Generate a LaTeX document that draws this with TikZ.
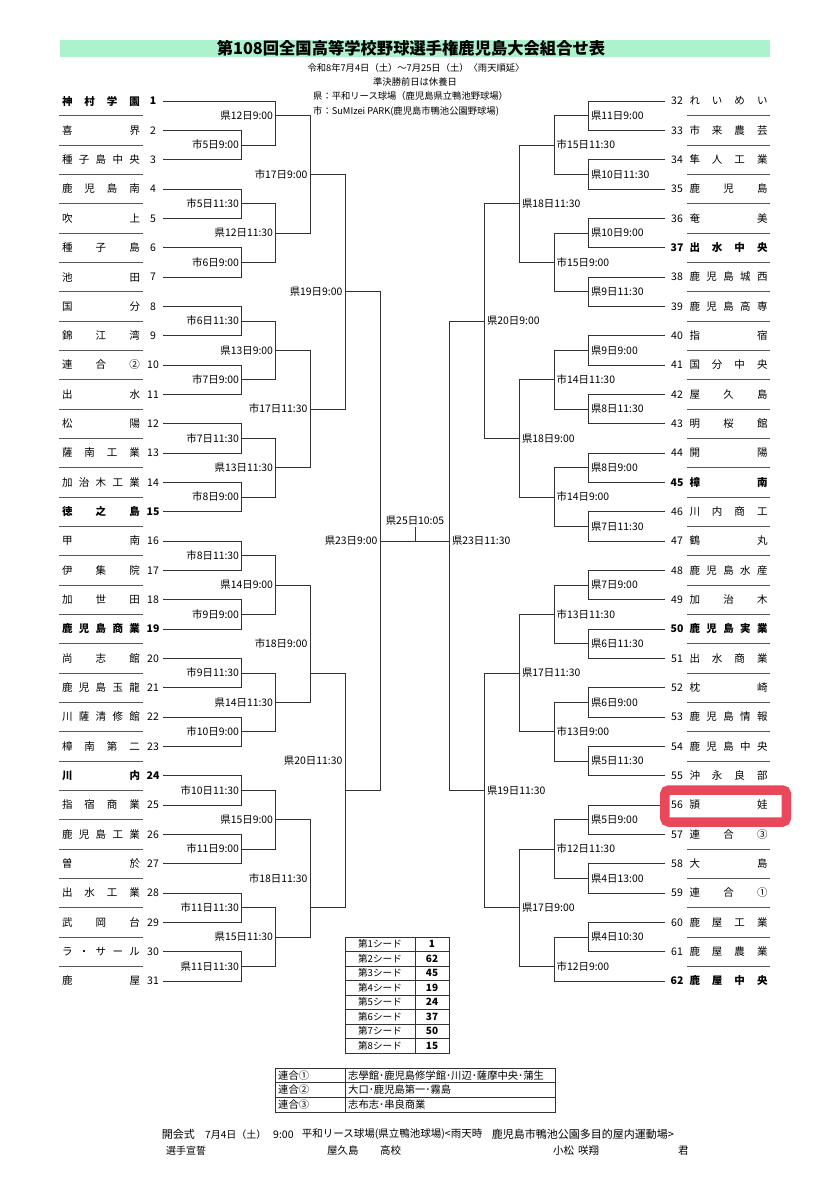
\documentclass[tikz,border=0pt]{standalone}
\usepackage{fontspec}
\setmainfont{Noto Sans CJK JP}
\usepackage{xcolor}
\usepackage{tikz}
\usetikzlibrary{positioning,calc}
\definecolor{bandgreen}{RGB}{172,242,204}
\definecolor{markred}{RGB}{232,72,90}
\newcommand\spread[1]{\makebox[78pt][s]{\expandafter\spreadi#1\relax}}
\def\spreadi#1#2{#1\ifx\relax#2\else\hfill\expandafter\spreadi\fi#2}
\newcommand\Y[1]{101+29.333*(#1-1)}
\newcommand\YR[1]{101+29.333*(#1-32)}
\tikzset{
  teamname/.style={inner sep=0pt,font=\fontsize{10.5}{12}\selectfont},
  teamnum/.style={inner sep=0pt,font=\fontsize{10.5}{12}\selectfont},
  datel/.style={inner sep=0pt,font=\fontsize{10.4}{12}\selectfont},
  subl/.style={inner sep=0pt,font=\fontsize{9.3}{11}\selectfont},
  bracket/.style={line width=0.9pt,black!80},
  rowline/.style={line width=0.7pt,black!65},
  tabline/.style={line width=0.7pt,black!80}
}
\begin{document}
\begin{tikzpicture}[x=1pt,y=-1pt]
\useasboundingbox (0,0) rectangle (840,1200);
\fill[bandgreen] (60,40) rectangle (770,57);
\node[inner sep=0pt,font=\fontsize{16.3}{18}\selectfont\bfseries] (title) at (411,48.5) {第108回全国高等学校野球選手権鹿児島大会組合せ表};
\node[subl] (sub1) at (416,67.7) {令和8年7月4日（土）～7月25日（土）〈雨天順延〉};
\node[subl] (sub2) at (415,81.7) {準決勝前日は休養日};
\node[subl,anchor=west] (sub3) at (313,96) {県：平和リース球場（鹿児島県立鴨池野球場）};
\node[subl,anchor=west] (sub4) at (313,111.7) {市：SuMIzei PARK(鹿児島市鴨池公園野球場)};

\foreach \n/\name/\bd in {1/神村学園/1,2/喜界/0,3/種子島中央/0,4/鹿児島南/0,5/吹上/0,6/種子島/0,7/池田/0,8/国分/0,9/錦江湾/0,10/連合②/0,11/出水/0,12/松陽/0,13/薩南工業/0,14/加治木工業/0,15/徳之島/1,16/甲南/0,17/伊集院/0,18/加世田/0,19/鹿児島商業/1,20/尚志館/0,21/鹿児島玉龍/0,22/川薩清修館/0,23/樟南第二/0,24/川内/1,25/指宿商業/0,26/鹿児島工業/0,27/曽於/0,28/出水工業/0,29/武岡台/0,30/ラ・サール/0,31/鹿屋/0}{
  \node[teamname] (n\n) at (101,{\Y{\n}}) {\ifnum\bd=1 \bfseries\fi\spread{\name}};
  \node[teamnum] (k\n) at (153,{\Y{\n}}) {\ifnum\bd=1 \bfseries\fi\n};
  \coordinate (t\n) at (163,{\Y{\n}});
  \ifnum\n<31 \draw[rowline] (59,{\Y{\n+0.5}}) -- (143,{\Y{\n+0.5}});\fi
}
\foreach \n/\name/\bd in {32/れいめい/0,33/市来農芸/0,34/隼人工業/0,35/鹿児島/0,36/奄美/0,37/出水中央/1,38/鹿児島城西/0,39/鹿児島高専/0,40/指宿/0,41/国分中央/0,42/屋久島/0,43/明桜館/0,44/開陽/0,45/樟南/1,46/川内商工/0,47/鶴丸/0,48/鹿児島水産/0,49/加治木/0,50/鹿児島実業/1,51/出水商業/0,52/枕崎/0,53/鹿児島情報/0,54/鹿児島中央/0,55/沖永良部/0,56/頴娃/0,57/連合③/0,58/大島/0,59/連合①/0,60/鹿屋工業/0,61/鹿屋農業/0,62/鹿屋中央/1}{
  \node[teamname] (n\n) at (728.5,{\YR{\n}}) {\ifnum\bd=1 \bfseries\fi\spread{\name}};
  \node[teamnum] (k\n) at (677,{\YR{\n}}) {\ifnum\bd=1 \bfseries\fi\n};
  \coordinate (t\n) at (665,{\YR{\n}});
  \ifnum\n<62 \draw[rowline] (687,{\YR{\n+0.5}}) -- (770,{\YR{\n+0.5}});\fi
}

% left half of the bracket
\foreach \jn/\ja/\jb/\jx/\jo/\jl/\jt in {a23/t2/t3/241.7/2.5/2.5/市5日9:00,a45/t4/t5/241.7/4.5/4.5/市5日11:30,a67/t6/t7/241.7/6.5/6.5/市6日9:00,b1/t1/a23/275.7/1.5/1.5/県12日9:00,b2/a45/a67/275.7/5.5/5.5/県12日11:30,c1/b1/b2/310/3.5/3.5/市17日9:00,a89/t8/t9/241.7/8.5/8.5/市6日11:30,a1011/t10/t11/241.7/10.5/10.5/市7日9:00,a1213/t12/t13/241.7/12.5/12.5/市7日11:30,a1415/t14/t15/241.7/14.5/14.5/市8日9:00,b3/a89/a1011/275.7/9.5/9.5/県13日9:00,b4/a1213/a1415/275.7/13.5/13.5/県13日11:30,c2/b3/b4/310/11.5/11.5/市17日11:30,d1/c1/c2/345/7.5/7.5/県19日9:00,a1617/t16/t17/241.7/16.5/16.5/市8日11:30,a1819/t18/t19/241.7/18.5/18.5/市9日9:00,a2021/t20/t21/241.7/20.5/20.5/市9日11:30,a2223/t22/t23/241.7/22.5/22.5/市10日9:00,b5/a1617/a1819/275.7/17.5/17.5/県14日9:00,b6/a2021/a2223/275.7/21.5/21.5/県14日11:30,c3/b5/b6/310/20.5/19.5/市18日9:00,a2425/t24/t25/241.7/24.5/24.5/市10日11:30,a2627/t26/t27/241.7/26.5/26.5/市11日9:00,a2829/t28/t29/241.7/28.5/28.5/市11日11:30,a3031/t30/t31/241.7/30.5/30.5/県11日11:30,b7/a2425/a2627/275.7/25.5/25.5/県15日9:00,b8/a2829/a3031/275.7/29.5/29.5/県15日11:30,c4/b7/b8/310/28.5/27.5/市18日11:30,d2/c3/c4/345/24.5/23.5/県20日11:30,e1/d1/d2/380/16/16/県23日9:00}{
  \coordinate (\jn) at (\jx,{\Y{\jo}});
  \draw[bracket] (\ja) -- (\ja -| \jn) -- (\jb -| \jn) -- (\jb);
  \node[datel,anchor=east] (l\jn) at (\jx-2.5,{\Y{\jl}}) {\jt};
}

% right half of the bracket
\foreach \jn/\ja/\jb/\jx/\jo/\jl/\jt in {r3233/t32/t33/588.3/32.5/32.5/県11日9:00,r3435/t34/t35/588.3/34.5/34.5/県10日11:30,r3637/t36/t37/588.3/36.5/36.5/県10日9:00,r3839/t38/t39/588.3/38.5/38.5/県9日11:30,s1/r3233/r3435/554/33.5/33.5/市15日11:30,s2/r3637/r3839/554/37.5/37.5/市15日9:00,u1/s1/s2/519.3/35.5/35.5/県18日11:30,r4041/t40/t41/588.3/40.5/40.5/県9日9:00,r4243/t42/t43/588.3/42.5/42.5/県8日11:30,r4445/t44/t45/588.3/44.5/44.5/県8日9:00,r4647/t46/t47/588.3/46.5/46.5/県7日11:30,s3/r4041/r4243/554/41.5/41.5/市14日11:30,s4/r4445/r4647/554/45.5/45.5/市14日9:00,u2/s3/s4/519.3/43.5/43.5/県18日9:00,v1/u1/u2/484.3/39.5/39.5/県20日9:00,r4849/t48/t49/588.3/48.5/48.5/県7日9:00,r5051/t50/t51/588.3/50.5/50.5/県6日11:30,r5253/t52/t53/588.3/52.5/52.5/県6日9:00,r5455/t54/t55/588.3/54.5/54.5/県5日11:30,s5/r4849/r5051/554/49.5/49.5/市13日11:30,s6/r5253/r5455/554/53.5/53.5/市13日9:00,u3/s5/s6/519.3/51.5/51.5/県17日11:30,r5657/t56/t57/588.3/56.5/56.5/県5日9:00,r5859/t58/t59/588.3/58.5/58.5/県4日13:00,r6061/t60/t61/588.3/60.5/60.5/県4日10:30,s7/r5657/r5859/554/57.5/57.5/市12日11:30,s8/r6061/t62/554/61.5/61.5/市12日9:00,u4/s7/s8/519.3/59.5/59.5/県17日9:00,v2/u3/u4/484.3/55.5/55.5/県19日11:30,w1/v1/v2/449.3/47/47/県23日11:30}{
  \coordinate (\jn) at (\jx,{\YR{\jo}});
  \draw[bracket] (\ja) -- (\ja -| \jn) -- (\jb -| \jn) -- (\jb);
  \node[datel,anchor=west] (l\jn) at (\jx+2.5,{\YR{\jl}}) {\jt};
}

% final
\draw[bracket] (e1) -- (w1);
\coordinate (fin) at (415,527);
\draw[bracket] (fin) -- (fin |- e1);
\node[datel,above=1pt of fin] (lfin) {県25日10:05};

\draw[markred,line width=9.5pt,rounded corners=4pt] (664.8,790) rectangle (786.4,822);

% seeds
\draw[tabline] (345,937) rectangle (449,1053);
\draw[tabline] (415,937) -- (415,1053);
\foreach \s/\v [count=\i] in {1/1,2/62,3/45,4/19,5/24,6/37,7/50,8/15}{
  \node[inner sep=0pt,font=\fontsize{9.6}{11}\selectfont] (sd\s) at (380,{937+(\i-0.5)*14.5}) {第{\s}シード};
  \node[inner sep=0pt,font=\fontsize{10}{11}\selectfont\bfseries] (sv\s) at (432,{937+(\i-0.5)*14.5}) {\v};
  \ifnum\i<8 \draw[tabline] (345,{937+\i*14.5}) -- (449,{937+\i*14.5});\fi
}

% joint teams
\draw[tabline] (275,1068) rectangle (555,1112);
\draw[tabline] (345,1068) -- (345,1112);
\draw[tabline] (275,1082.7) -- (555,1082.7);
\draw[tabline] (275,1097.3) -- (555,1097.3);
\foreach \g/\m [count=\i] in {連合①/志學館･鹿児島修学館･川辺･薩摩中央･蒲生,連合②/大口･鹿児島第一･霧島,連合③/志布志･串良商業}{
  \node[inner sep=0pt,anchor=west,font=\fontsize{10.3}{12}\selectfont] (jg\i) at (278,{1068+(\i-0.5)*14.67}) {\g};
  \node[inner sep=0pt,anchor=west,font=\fontsize{10.3}{12}\selectfont] (jm\i) at (348,{1068+(\i-0.5)*14.67}) {\m};
}

% opening ceremony
\foreach \x/\y/\fs/\t [count=\i] in {161.7/1134.5/11/開会式,205/1134.5/10/7月4日（土）,273/1134.5/10.5/9:00,301.7/1134.5/10.5/平和リース球場(県立鴨池球場)<雨天時,491.7/1134.5/11/鹿児島市鴨池公園多目的屋内運動場>,166/1150.5/10/選手宣誓,327/1150.5/10.5/屋久島,380/1150.5/10.5/高校,553/1150.5/10.5/小松,578/1150.5/10.5/咲翔,678/1150.5/10.5/君}{
  \node[inner sep=0pt,anchor=west,font=\fontsize{\fs}{12}\selectfont] (oc\i) at (\x,\y) {\t};
}
\end{tikzpicture}
\end{document}
